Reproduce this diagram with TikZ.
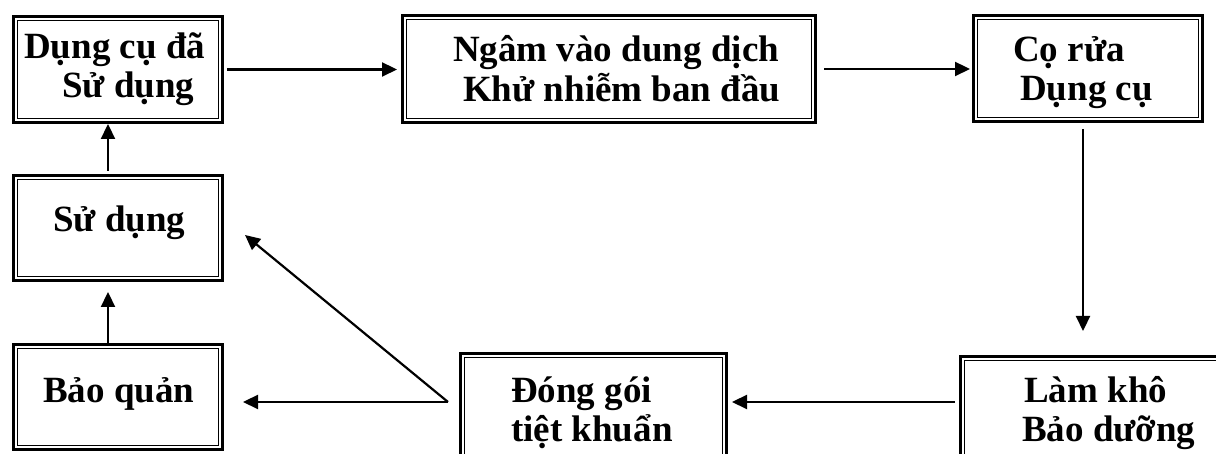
\documentclass[tikz,border=0pt]{standalone}
\usepackage{fontspec}
\setmainfont{Liberation Serif}
\usetikzlibrary{arrows.meta}

\tikzset{
  % thick outer frame of a step box; the thin inner frame is added afterwards
  box/.style n args={2}{draw, line width=2.6pt, inner sep=0pt,
    minimum width=#1, minimum height=#2},
  innerframe/.style={draw, line width=1.6pt},
  lbl/.style={inner sep=0pt, anchor=base west,
    font=\fontsize{37}{38.5}\selectfont\bfseries},
  flow/.style={line width=2.2pt, -{Triangle[length=15pt,width=14pt]}}
}

\begin{document}
\begin{tikzpicture}[x=1pt, y=1pt]
  \useasboundingbox (0,0) rectangle (1216,454);
  \clip (0,0) rectangle (1216,454);

  % step boxes
  \node[box={209.4pt}{106.4pt}] (b1) at (118,384.5) {};
  \node[box={413.4pt}{107.4pt}] (b2) at (609,385) {};
  \node[box={229.4pt}{106.4pt}] (b3) at (1088,385.5) {};
  \node[box={209.4pt}{105.4pt}] (b4) at (118,226) {};
  \node[box={209.4pt}{105.4pt}] (b5) at (118,57) {};
  \node[box={266.4pt}{107.4pt}] (b6) at (593.5,47) {};
  \node[box={267.4pt}{107.4pt}] (b7) at (1094,44) {};

  \foreach \n in {b1,b2,b3,b4,b5,b6,b7}
    \draw[innerframe] ([shift={(5.4pt,5.4pt)}]\n.south west)
                      rectangle ([shift={(-5.4pt,-5.4pt)}]\n.north east);

  % box texts
  \node[lbl] (t1) at (24,395)
    {\begin{tabular}[t]{@{}l@{}}Dụng cụ đã\\\hspace*{38pt}Sử dụng\end{tabular}};
  \node[lbl] (t2) at (453,392)
    {\begin{tabular}[t]{@{}l@{}}Ngâm vào dung dịch\\\hspace*{10pt}Khử nhiễm ban đầu\end{tabular}};
  \node[lbl] (t3) at (1013,392)
    {\begin{tabular}[t]{@{}l@{}}Cọ rửa\\\hspace*{7pt}Dụng cụ\end{tabular}};
  \node[lbl] (t4) at (53,222) {Sử dụng};
  \node[lbl] (t5) at (43,51) {Bảo quản};
  \node[lbl] (t6) at (511,51)
    {\begin{tabular}[t]{@{}l@{}}Đóng gói\\tiệt khuẩn\end{tabular}};
  \node[lbl] (t7) at (1024,51)
    {\begin{tabular}[t]{@{}l@{}}Làm khô\\\hspace*{-2pt}Bảo dưỡng\end{tabular}};

  % branching point left of the packing step
  \coordinate (j) at (448,52);

  % connectors
  \draw[flow, shorten <=3pt, shorten >=4pt] (b1.east) -- (b1.east -| b2.west);
  \draw[flow, shorten <=7pt, shorten >=2pt] (b2.east) -- (b2.east -| b3.west);
  \draw[flow, shorten <=6pt, shorten >=24pt]
    ([xshift=-5pt]b3.south) -- ([xshift=-5pt]b3.south |- b7.north);
  \draw[flow, shorten <=4pt, shorten >=4pt] (b7.west |- j) -- (b6.east |- j);
  \draw[flow, shorten >=19pt] (j) -- (b5.east |- j);
  \draw[flow] (j) -- ([shift={(21pt,-7pt)}]b4.east);
  \draw[flow, shorten >=10pt] ([xshift=-10pt]b5.north) -- ([xshift=-10pt]b4.south);
  \draw[flow, shorten <=3pt] ([xshift=-10pt]b4.north) -- ([xshift=-10pt]b1.south);
\end{tikzpicture}
\end{document}
